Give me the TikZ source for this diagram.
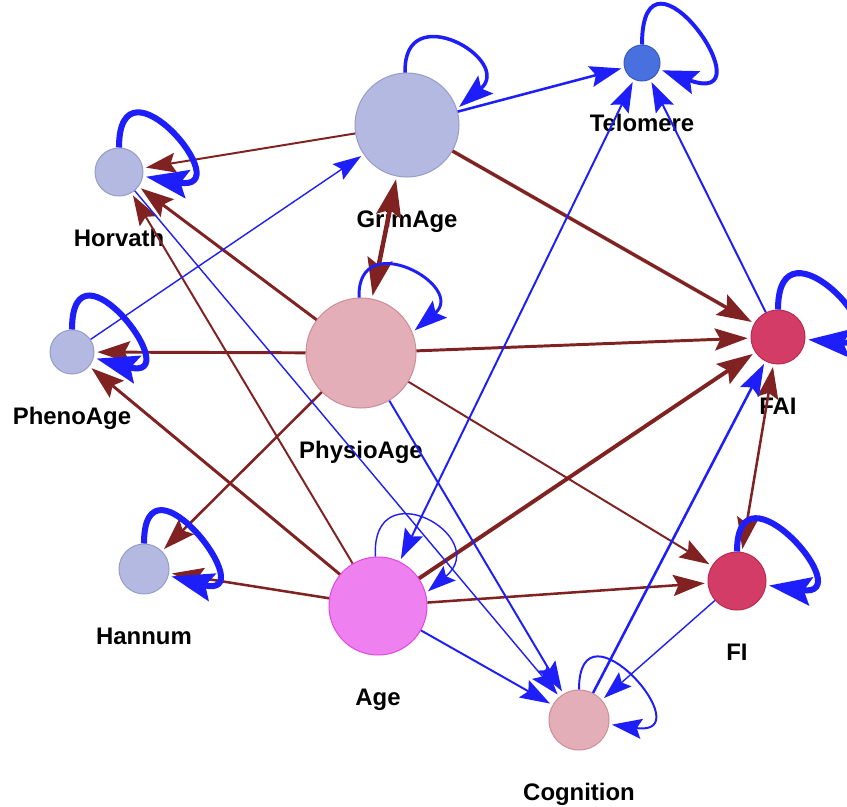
\documentclass[tikz,border=0pt]{standalone}
\usepackage{fontspec}
\setmainfont{Liberation Sans}
\usetikzlibrary{arrows.meta,positioning}
\definecolor{lav}{RGB}{179,185,224}
\definecolor{lavline}{RGB}{150,156,200}
\definecolor{telo}{RGB}{72,112,222}
\definecolor{teloline}{RGB}{55,90,190}
\definecolor{rose}{RGB}{227,174,183}
\definecolor{roseline}{RGB}{205,140,152}
\definecolor{crim}{RGB}{211,60,102}
\definecolor{crimline}{RGB}{190,40,80}
\definecolor{viol}{RGB}{238,128,240}
\definecolor{violline}{RGB}{225,70,225}
\definecolor{brn}{RGB}{128,34,34}
\definecolor{blu}{RGB}{30,30,250}

\begin{document}
\begin{tikzpicture}[x=0.025cm, y=0.025cm,
  var/.style={circle, draw, line width=0.7pt, inner sep=0pt},
  lbl/.style={font=\fontsize{17}{20}\selectfont\bfseries, inner sep=0pt},
  hd/.style={-{Stealth[length=0.6cm 3, width=0.4cm 2, inset=0.1cm 0.5]}, shorten >=2pt},
  twohd/.style={{Stealth[length=0.6cm 3, width=0.4cm 2, inset=0.1cm 0.5]}-{Stealth[length=0.6cm 3, width=0.4cm 2, inset=0.1cm 0.5]}, shorten >=2pt, shorten <=2pt},
  brnline/.style={brn, hd},
  bluline/.style={blu, hd}]
  \useasboundingbox (0,0) rectangle (847,-807);
  %% variables
  \node[var, fill=lav, draw=lavline, minimum size=2.6cm] (gr) at (407,-125) {};
  \node[var, fill=telo, draw=teloline, minimum size=0.9cm] (te) at (642,-63) {};
  \node[var, fill=lav, draw=lavline, minimum size=1.2cm] (ho) at (119,-172) {};
  \node[var, fill=lav, draw=lavline, minimum size=1.1cm] (pa) at (72,-352) {};
  \node[var, fill=rose, draw=roseline, minimum size=2.75cm] (ph) at (361,-353) {};
  \node[var, fill=crim, draw=crimline, minimum size=1.35cm] (fai) at (778,-337) {};
  \node[var, fill=lav, draw=lavline, minimum size=1.25cm] (han) at (144,-569) {};
  \node[var, fill=viol, draw=violline, minimum size=2.45cm] (age) at (378,-606) {};
  \node[var, fill=crim, draw=crimline, minimum size=1.45cm] (fi) at (737,-581) {};
  \node[var, fill=rose, draw=roseline, minimum size=1.5cm] (cog) at (579,-720) {};
  %% labels
  \node[lbl, below=1.25cm of gr.south, anchor=base] (grl) {GrimAge};
  \node[lbl, below=1.25cm of te.south, anchor=base] (tel) {Telomere};
  \node[lbl, below=1.25cm of ho.south, anchor=base] (hol) {Horvath};
  \node[lbl, below=1.25cm of pa.south, anchor=base] (pal) {PhenoAge};
  \node[lbl, below=1.25cm of ph.south, anchor=base] (phl) {PhysioAge};
  \node[lbl, below=1.25cm of fai.south, anchor=base] (fail) {FAI};
  \node[lbl, below=1.25cm of han.south, anchor=base] (hanl) {Hannum};
  \node[lbl, below=1.25cm of age.south, anchor=base] (agel) {Age};
  \node[lbl, below=1.25cm of fi.south, anchor=base] (fil) {FI};
  \node[lbl, below=1.25cm of cog.south, anchor=base] (cogl) {Cognition};
  %% positive paths
  \draw[brnline, line width=1.4pt] (gr) -- (ho);
  \draw[brn, twohd, line width=3.2pt] (gr) -- (ph);
  \draw[brnline, line width=2.5pt] (gr) -- (fai);
  \draw[brnline, line width=2.1pt] (ph) -- (ho);
  \draw[brnline, line width=2.1pt] (ph) -- (pa);
  \draw[brnline, line width=2.1pt] (ph) -- (fai);
  \draw[brnline, line width=1.8pt] (ph) -- (han);
  \draw[brnline, line width=1.4pt] (ph) -- (fi);
  \draw[brnline, line width=1.4pt] (age) -- (ho);
  \draw[brnline, line width=2.1pt] (age) -- (pa);
  \draw[brnline, line width=1.8pt] (age) -- (han);
  \draw[brnline, line width=2.8pt] (age) -- (fai);
  \draw[brnline, line width=1.8pt] (age) -- (fi);
  \draw[brn, twohd, line width=1.8pt] (fai) -- (fi);
  %% negative paths
  \draw[bluline, line width=1pt] (pa) -- (gr);
  \draw[bluline, line width=1.8pt] (gr) -- (te);
  \draw[bluline, line width=1pt] (ho) -- (cog);
  \draw[bluline, line width=1.4pt] (ph) -- (cog);
  \draw[blu, twohd, line width=1.4pt] (age) -- (te);
  \draw[bluline, line width=1.4pt] (fai) -- (te);
  \draw[bluline, line width=1.4pt] (age) -- (cog);
  \draw[bluline, line width=1pt] (fi) -- (cog);
  \draw[bluline, line width=1.8pt] (cog) -- (fai);
  %% self loops
  \draw[bluline, line width=2.5pt] (gr.92) to[out=92, in=40, distance=1.9cm] (gr.18);
  \draw[bluline, line width=2.8pt] (te) to[out=90, in=-20, distance=3cm] (te);
  \draw[bluline, line width=4.3pt] (ho) to[out=90, in=-10, distance=2.5cm] (ho);
  \draw[bluline, line width=4.3pt] (pa) to[out=90, in=-15, distance=2.5cm] (pa);
  \draw[bluline, line width=2.1pt] (ph.92) to[out=92, in=40, distance=1.8cm] (ph.22);
  \draw[bluline, line width=4.3pt] (fai) to[out=90, in=-5, distance=2.5cm] (fai);
  \draw[bluline, line width=4.3pt] (han) to[out=90, in=-15, distance=2.5cm] (han);
  \draw[bluline, line width=1pt] (age.93) to[out=93, in=40, distance=2.2cm] (age.15);
  \draw[bluline, line width=4.3pt] (fi) to[out=90, in=-8, distance=2.4cm] (fi);
  \draw[bluline, line width=1.4pt] (cog) to[out=90, in=-8, distance=2.4cm] (cog);
\end{tikzpicture}
\end{document}
